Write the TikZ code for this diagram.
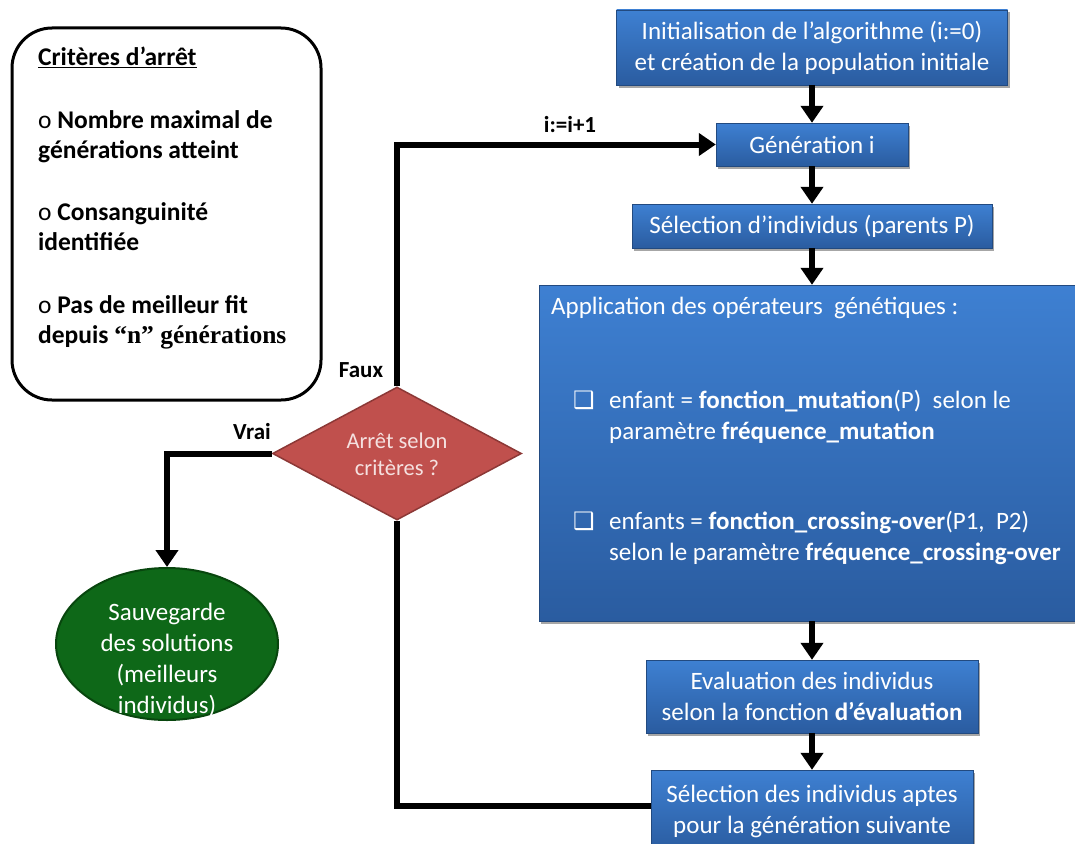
\documentclass[tikz,border=0pt]{standalone}
\usepackage{fontspec}
\setmainfont{Carlito}
\newfontfamily\dejavu{DejaVu Sans}
\newfontfamily\timesf{Liberation Serif}
\usetikzlibrary{shapes.geometric,arrows.meta,shadows}
\definecolor{bxtop}{RGB}{62,128,210}
\definecolor{bxbot}{RGB}{42,92,160}
\definecolor{dred}{RGB}{192,80,77}
\definecolor{dredb}{RGB}{140,56,54}
\definecolor{dtxt}{RGB}{245,225,224}
\definecolor{dgreen}{RGB}{14,104,24}
\definecolor{dgreenb}{RGB}{8,70,14}
\tikzset{
 bluebox/.style={rectangle, top color=bxtop, bottom color=bxbot, draw=bxbot!80!black, line width=0.4pt,
   drop shadow={shadow xshift=2pt,shadow yshift=-2.5pt,opacity=0.35,fill=black},
   text=white, align=center, inner sep=0pt, font=\fontsize{25}{31}\selectfont},
 flow/.style={line width=6pt, -{Triangle[width=22pt,length=17pt]}},
 plainline/.style={line width=6pt},
 lbl/.style={font=\bfseries\fontsize{23}{25}\selectfont, inner sep=0pt},
 crittxt/.style={anchor=base west, inner sep=0pt, font=\bfseries\fontsize{25.5}{28}\selectfont},
 apptxt/.style={anchor=base west, inner sep=0pt, text=white, font=\fontsize{25}{28}\selectfont},
 bul/.style={anchor=base west, inner sep=0pt, text=white, font=\dejavu\fontsize{24}{26}\selectfont},
}
\begin{document}
\begin{tikzpicture}[x=1pt,y=-1pt]
\clip (0,0) rectangle (1075,843);
\fill[white] (0,0) rectangle (1075,843);

% criteria box
\node[draw, line width=3pt, rounded corners=40pt, minimum width=309, minimum height=372, inner sep=0pt] (crit) at (166.5,214) {};
\node[crittxt] (c1) at (38,66) {\underline{Critères d’arrêt}};
\node[crittxt] (c2) at (38,128) {{\mdseries o} Nombre maximal de};
\node[crittxt] (c3) at (38,158) {générations atteint};
\node[crittxt] (c4) at (38,220) {{\mdseries o} Consanguinité};
\node[crittxt] (c5) at (38,250) {identifiée};
\node[crittxt] (c6) at (38,313) {{\mdseries o} Pas de meilleur fit};
\node[crittxt] (c7) at (38,343) {depuis {\timesf\bfseries\fontsize{25.5}{28}\selectfont “n” générations}};

% blue boxes
\node[bluebox, minimum width=391, minimum height=75] (init) at (812,47.5) {Initialisation de l’algorithme (i:=0)\\et création de la population initiale};
\node[bluebox, minimum width=192, minimum height=43] (gen) at (812,144.5) {Génération i};
\node[bluebox, minimum width=360, minimum height=44] (sel) at (812,226) {Sélection d’individus (parents P)};
\node[bluebox, minimum width=538, minimum height=336] (app) at (808,453) {};
\node[apptxt] (a1) at (551,314) {Application des opérateurs \ génétiques :};
\node[bul] (b1) at (573,408) {❑};
\node[apptxt] (a2) at (609,408) {enfant = \textbf{fonction\_mutation}(P) \ selon le};
\node[apptxt] (a3) at (609,439) {paramètre \textbf{fréquence\_mutation}};
\node[bul] (b2) at (573,529) {❑};
\node[apptxt] (a4) at (609,529) {enfants = \textbf{fonction\_crossing-over}(P1, \ P2)};
\node[apptxt] (a5) at (609,560) {selon le paramètre \textbf{fréquence\_crossing-over}};
\node[bluebox, minimum width=332, minimum height=73] (eval) at (812,696.5) {Evaluation des individus\\selon la fonction \textbf{d’évaluation}};
\node[bluebox, minimum width=322, minimum height=82] (apt) at (812,811) {Sélection des individus aptes\\pour la génération suivante};

% decision
\node[diamond, fill=dred, draw=dredb, line width=1.5pt, minimum width=249, minimum height=133, inner sep=0pt] (dec) at (397,453.5) {};
\node[text=dtxt, align=center, inner sep=0pt, font=\fontsize{22.5}{27}\selectfont] (dect) at (397,454) {Arrêt selon\\critères ?};

% save ellipse
\node[ellipse, fill=dgreen, draw=dgreenb, line width=2pt, minimum width=222, minimum height=152, inner sep=0pt] (save) at (167,644) {};
\node[text=white, align=center, inner sep=0pt, font=\fontsize{25}{31}\selectfont] (savet) at (167,660) {Sauvegarde\\des solutions\\(meilleurs\\individus)};

% connectors
\draw[flow] (init.south) -- (gen.north);
\draw[flow] (gen.south) -- (sel.north);
\draw[flow] (sel.south) -- (sel.south |- app.north);
\draw[flow] (eval.north |- app.south) -- (eval.north);
\draw[flow] (eval.south) -- (apt.north);
\draw[flow] (dec.north) |- (gen.west);
\draw[plainline] ([yshift=5pt]apt.west) -| (dec.south);
\draw[flow] (dec.west) -| (save.north);

% labels
\node[lbl] (linc) at (570,125) {i:=i+1};
\node[lbl] (lfaux) at (361,370) {Faux};
\node[lbl] (lvrai) at (252,432) {Vrai};
\end{tikzpicture}
\end{document}
